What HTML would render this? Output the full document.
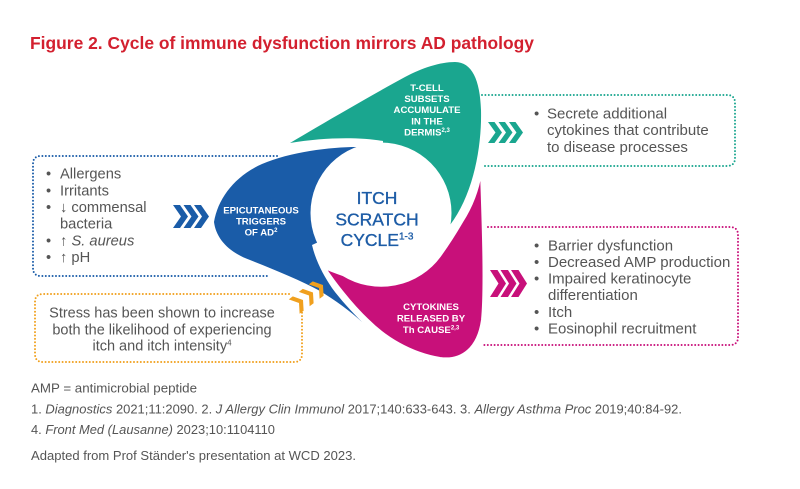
<!DOCTYPE html>
<html>
<head>
<meta charset="utf-8">
<style>
  html, body { margin: 0; padding: 0; background: #fff; }
  svg { display: block; }
  text { font-family: "Liberation Sans", "DejaVu Sans", sans-serif; }
</style>
</head>
<body>
<svg width="800" height="489" viewBox="0 0 800 489" xmlns="http://www.w3.org/2000/svg">
  <rect width="800" height="489" fill="#fff"/>

  <!-- Title -->
  <text x="30" y="49" font-size="17.5" font-weight="bold" fill="#d3202f" textLength="504" lengthAdjust="spacingAndGlyphs">Figure 2. Cycle of immune dysfunction mirrors AD pathology</text>

  <!-- Dotted boxes -->
  <g fill="none" stroke-width="2" stroke-linecap="round" stroke-dasharray="0 3.4">
    <path stroke="#1a5ca8" d="M277,156 H41 Q33,156 33,164 V268 Q33,276 41,276 H270"/>
    <path stroke="#f0a01e" d="M289,294 H43 Q35,294 35,302 V354 Q35,362 43,362 H294 Q302,362 302,354 V308"/>
    <path stroke="#1aa68f" d="M482,95 H727 Q735,95 735,103 V158 Q735,166 727,166 H485"/>
    <path stroke="#c8107a" d="M488,227 H730 Q738,227 738,235 V337 Q738,345 730,345 H483"/>
  </g>

  <!-- Petals -->
  <path fill="#1a5ca8" d="M357,147 C330,147 290,152 262,164 C235,176 218,198 214,222 C216,238 228,252 250,260 C275,270 300,280 320,291 C335,300 350,311 362,322 C352,312 340,299 332,288 C324,276 316,262 312,245 L381,213 Z"/>
  <path fill="#1aa68f" d="M290,143 C322,124 370,96 405,77 C422,68 440,62 455,62 C472,62 480,80 481,110 C482,150 472,200 446,230 L381,213 L383,141 C360,137 325,137 290,143 Z"/>
  <path fill="#c8107a" stroke="#fff" stroke-width="2" d="M325,268 C333,280 350,303 368,320 C385,337 410,353 440,358 C462,361 478,348 482,320 C485,290 483,230 481,172 C478,192 471,208 462,222 C455,234 448,245 440,256 A73,73 0 0 1 343,275 C337,273 331,271 325,268 Z"/>
  <circle cx="381" cy="213" r="70.5" fill="#fff"/>

  <!-- Petal labels -->
  <g fill="#fff" font-weight="bold" font-size="9.6" text-anchor="middle">
    <text x="261" y="213.5">EPICUTANEOUS</text>
    <text x="261" y="224.5">TRIGGERS</text>
    <text x="261" y="235.5">OF AD<tspan font-size="6" dy="-3.5">2</tspan></text>

    <text x="427" y="91">T-CELL</text>
    <text x="427" y="102">SUBSETS</text>
    <text x="427" y="113">ACCUMULATE</text>
    <text x="427" y="124.3">IN THE</text>
    <text x="427" y="135.6">DERMIS<tspan font-size="6" dy="-3.5">2,3</tspan></text>

    <text x="431" y="310">CYTOKINES</text>
    <text x="431" y="321.5">RELEASED BY</text>
    <text x="431" y="333">Th CAUSE<tspan font-size="6" dy="-3.5">2,3</tspan></text>
  </g>

  <!-- Center label -->
  <g fill="#1d5ca6" stroke="#1d5ca6" stroke-width="0.35" font-size="17.5" text-anchor="middle">
    <text x="377" y="204">ITCH</text>
    <text x="377" y="225.5">SCRATCH</text>
    <text x="377" y="246">CYCLE<tspan font-size="10" dy="-6.5">1-3</tspan></text>
  </g>

  <!-- Chevrons -->
  <g fill="#1a5ca8">
    <polygon points="173,205 180,205 188,216.5 180,228 173,228 181,216.5"/>
    <polygon points="183.5,205 190.5,205 198.5,216.5 190.5,228 183.5,228 191.5,216.5"/>
    <polygon points="194,205 201,205 209,216.5 201,228 194,228 202,216.5"/>
  </g>
  <g fill="#1aa68f">
    <polygon points="488,122 494.5,122 502,132.5 494.5,143 488,143 495.5,132.5"/>
    <polygon points="498.5,122 505,122 512.5,132.5 505,143 498.5,143 506,132.5"/>
    <polygon points="509,122 515.5,122 523,132.5 515.5,143 509,143 516.5,132.5"/>
  </g>
  <g fill="#c8107a">
    <polygon points="490,270 497.5,270 506,283.5 497.5,297 490,297 498.5,283.5"/>
    <polygon points="500.5,270 508,270 516.5,283.5 508,297 500.5,297 509,283.5"/>
    <polygon points="511,270 518.5,270 527,283.5 518.5,297 511,297 519.5,283.5"/>
  </g>
  <g fill="#f0a01e" transform="translate(303,300) rotate(-37)">
    <polygon points="-11,-9 -6,-9 0,0 -6,9 -11,9 -5,0"/>
    <polygon points="1.5,-9 6.5,-9 12.5,0 6.5,9 1.5,9 7.5,0"/>
    <polygon points="14,-9 19,-9 25,0 19,9 14,9 20,0"/>
  </g>

  <!-- Left list -->
  <g fill="#555" font-size="14.7">
    <text x="46" y="178.5">•</text><text x="60" y="178.5">Allergens</text>
    <text x="46" y="195.5">•</text><text x="60" y="195.5">Irritants</text>
    <text x="46" y="212">•</text><text x="60" y="212">↓ commensal</text>
    <text x="60" y="228.5">bacteria</text>
    <text x="46" y="245.5">•</text><text x="60" y="245.5">↑ <tspan font-style="italic">S. aureus</tspan></text>
    <text x="46" y="262">•</text><text x="60" y="262">↑ pH</text>
  </g>

  <!-- Orange text -->
  <g fill="#555" font-size="14.5" text-anchor="middle">
    <text x="162" y="317.5">Stress has been shown to increase</text>
    <text x="162" y="334.5">both the likelihood of experiencing</text>
    <text x="162" y="350.5">itch and itch intensity<tspan font-size="8" dy="-5">4</tspan></text>
  </g>

  <!-- Teal list -->
  <g fill="#555" font-size="15">
    <text x="534" y="118.4">•</text><text x="547" y="118.4">Secrete additional</text>
    <text x="547" y="135.2">cytokines that contribute</text>
    <text x="547" y="152">to disease processes</text>
  </g>

  <!-- Magenta list -->
  <g fill="#555" font-size="15">
    <text x="534" y="250.4">•</text><text x="548" y="250.4">Barrier dysfunction</text>
    <text x="534" y="267">•</text><text x="548" y="267">Decreased AMP production</text>
    <text x="534" y="283.6">•</text><text x="548" y="283.6">Impaired keratinocyte</text>
    <text x="548" y="300.2">differentiation</text>
    <text x="534" y="316.8">•</text><text x="548" y="316.8">Itch</text>
    <text x="534" y="333.4">•</text><text x="548" y="333.4">Eosinophil recruitment</text>
  </g>

  <!-- Footnotes -->
  <g fill="#555" font-size="13">
    <text x="31" y="392.7" textLength="166" lengthAdjust="spacingAndGlyphs">AMP = antimicrobial peptide</text>
    <text x="31" y="413.7" textLength="651" lengthAdjust="spacingAndGlyphs">1. <tspan font-style="italic">Diagnostics</tspan> 2021;11:2090. 2. <tspan font-style="italic">J Allergy Clin Immunol</tspan> 2017;140:633-643. 3. <tspan font-style="italic">Allergy Asthma Proc</tspan> 2019;40:84-92.</text>
    <text x="31" y="434.2" textLength="244" lengthAdjust="spacingAndGlyphs">4. <tspan font-style="italic">Front Med (Lausanne)</tspan> 2023;10:1104110</text>
    <text x="31" y="460.2" textLength="325" lengthAdjust="spacingAndGlyphs">Adapted from Prof Ständer's presentation at WCD 2023.</text>
  </g>
</svg>
</body>
</html>
